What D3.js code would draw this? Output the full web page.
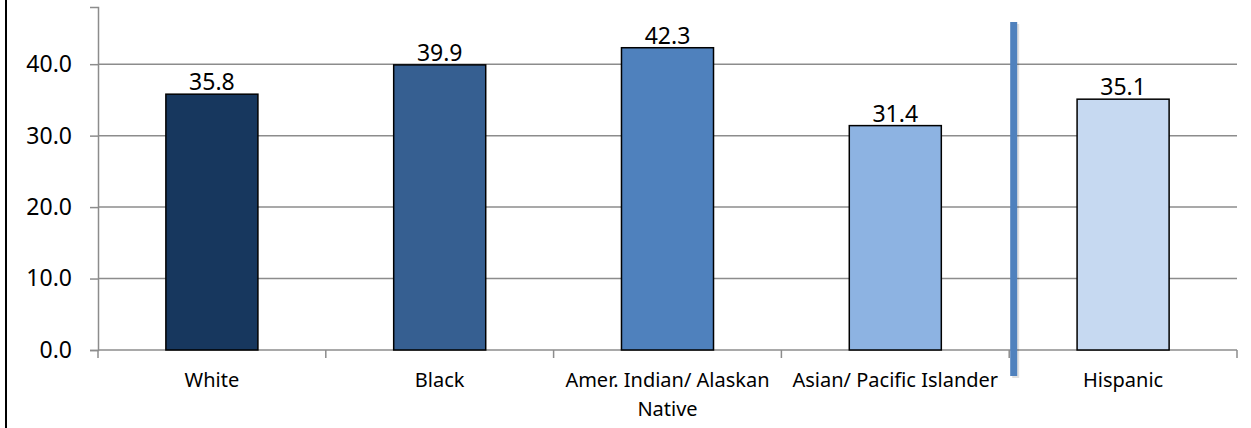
<!DOCTYPE html>
<html lang="en">

<head>
    <meta charset="UTF-8" />
    <title>Bar chart by race / ethnicity</title>
    <script src="https://d3js.org/d3.v7.min.js"></script>
    <style>
        body {
            margin: 0;
            background: #ffffff;
            font-family: "Noto Sans", sans-serif;
            overflow: hidden;
        }
        svg { display: block; }
    </style>
</head>

<body>
    <div id="chart"></div>

    <script>
        const categories = ["White", "Black", "Amer. Indian/ Alaskan Native", "Asian/ Pacific Islander", "Hispanic"];
        const values = [35.8, 39.9, 42.3, 31.4, 35.1];
        const barColors = ["#17375E", "#365F91", "#4F81BD", "#8DB3E2", "#C6D9F1"];
        const yTicks = [0, 10, 20, 30, 40];

        const width = 1251;
        const height = 428;
        const plotLeft = 98, plotRight = 1237, plotTop = 7, plotBottom = 350;

        const svg = d3.select("#chart")
            .append("svg")
            .attr("width", width)
            .attr("height", height);

        // frame edge on the left
        svg.append("line")
            .attr("x1", 6).attr("x2", 6)
            .attr("y1", 0).attr("y2", height)
            .attr("stroke", "#000")
            .attr("stroke-width", 2);

        const x = d3.scaleBand()
            .domain(categories)
            .range([plotLeft, plotRight])
            .paddingInner(0.596)
            .paddingOuter(0.298);

        const y = d3.scaleLinear()
            .domain([0, 48])
            .range([plotBottom, plotTop]);

        const step = (plotRight - plotLeft) / categories.length;

        // gridlines
        svg.append("g")
            .selectAll("line")
            .data(yTicks.filter(d => d > 0))
            .join("line")
            .attr("x1", plotLeft).attr("x2", plotRight)
            .attr("y1", d => y(d)).attr("y2", d => y(d))
            .attr("stroke", "#8c8c8c")
            .attr("stroke-width", 1.5);

        // y axis
        const yAxis = svg.append("g")
            .attr("transform", `translate(${plotLeft},0)`)
            .call(d3.axisLeft(y).tickValues(yTicks).tickSize(8).tickPadding(18).tickFormat(d3.format(".1f")));
        yAxis.select(".domain").attr("stroke", "#8c8c8c").attr("stroke-width", 1.5);
        yAxis.selectAll(".tick line").attr("stroke", "#8c8c8c").attr("stroke-width", 1.5);
        yAxis.selectAll(".tick text")
            .attr("font-family", "Noto Sans")
            .attr("font-size", 23)
            .attr("fill", "#000");

        // category axis line + boundary ticks
        svg.append("line")
            .attr("x1", plotLeft).attr("x2", plotRight)
            .attr("y1", plotBottom).attr("y2", plotBottom)
            .attr("stroke", "#8c8c8c")
            .attr("stroke-width", 1.5);

        svg.append("g")
            .selectAll("line")
            .data(d3.range(categories.length + 1))
            .join("line")
            .attr("x1", i => plotLeft + i * step).attr("x2", i => plotLeft + i * step)
            .attr("y1", plotBottom).attr("y2", plotBottom + 8)
            .attr("stroke", "#8c8c8c")
            .attr("stroke-width", 1.5);

        // bars
        svg.append("g")
            .selectAll("rect")
            .data(values)
            .join("rect")
            .attr("x", (d, i) => x(categories[i]))
            .attr("y", d => y(d))
            .attr("width", x.bandwidth())
            .attr("height", d => y(0) - y(d))
            .attr("fill", (d, i) => barColors[i])
            .attr("stroke", "#000")
            .attr("stroke-width", 1.5);

        // value labels
        svg.append("g")
            .selectAll("text")
            .data(values)
            .join("text")
            .attr("x", (d, i) => x(categories[i]) + x.bandwidth() / 2)
            .attr("y", d => y(d) - 4)
            .attr("text-anchor", "middle")
            .attr("font-size", 23)
            .text(d => d.toFixed(1));

        // category labels (wrap long one onto two lines)
        const labelLines = ["White", "Black", ["Amer. Indian/ Alaskan", "Native"], "Asian/ Pacific Islander", "Hispanic"];
        svg.append("g")
            .selectAll("text")
            .data(categories)
            .join("text")
            .attr("x", d => x(d) + x.bandwidth() / 2)
            .attr("y", 387)
            .attr("text-anchor", "middle")
            .attr("font-size", 20)
            .each(function (d, i) {
                const lines = [].concat(labelLines[i]);
                d3.select(this).selectAll("tspan")
                    .data(lines)
                    .join("tspan")
                    .attr("x", x(d) + x.bandwidth() / 2)
                    .attr("dy", (l, j) => j === 0 ? 0 : 29)
                    .text(l => l);
            });

        // divider between race groups and Hispanic
        const divX = plotLeft + 4 * step + 4;
        svg.append("rect")
            .attr("x", divX - 3 + 2)
            .attr("y", 22 + 2)
            .attr("width", 7)
            .attr("height", 354)
            .attr("fill", "#000")
            .attr("opacity", 0.12);
        svg.append("rect")
            .attr("x", divX - 3)
            .attr("y", 22)
            .attr("width", 7)
            .attr("height", 354)
            .attr("fill", "#4F81BD");
    </script>

</body>

</html>
